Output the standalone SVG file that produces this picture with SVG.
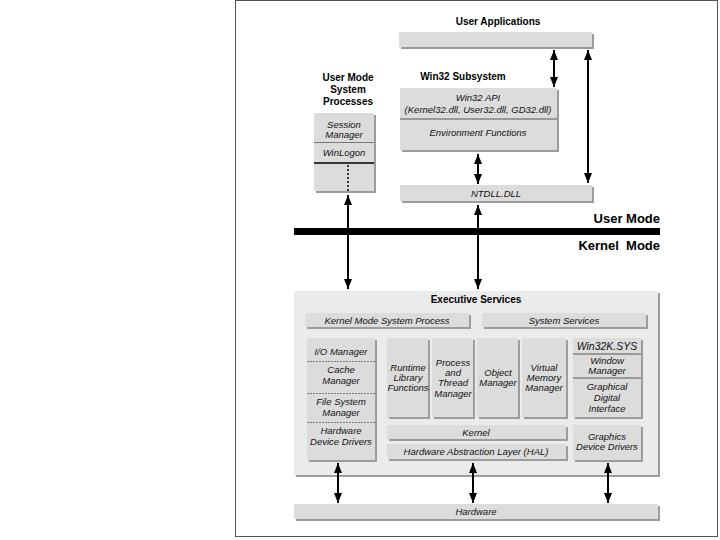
<svg xmlns="http://www.w3.org/2000/svg" width="720" height="540" viewBox="0 0 720 540">
<defs>
<marker id="ah" viewBox="0 0 10 8" refX="10" refY="4" markerWidth="5" markerHeight="4" orient="auto-start-reverse" markerUnits="strokeWidth">
<path d="M0,0 L10,4 L0,8 Z" fill="#000"/>
</marker>
<style>
.sh{fill:#9c9c9c}
.bx{fill:#dcdcdc}
.ex{fill:#ebebeb}
.t{font-family:"Liberation Sans",Arial,sans-serif;font-style:italic;font-size:9.5px;fill:#111;text-anchor:middle}
.b{font-family:"Liberation Sans",Arial,sans-serif;font-weight:bold;font-size:10px;fill:#000;text-anchor:middle}
.m{font-family:"Liberation Sans",Arial,sans-serif;font-weight:bold;font-size:13px;fill:#000;text-anchor:end}
.c{stroke:#000;stroke-width:2;fill:none;marker-start:url(#ah);marker-end:url(#ah)}
.dd{stroke:#777;stroke-width:1;stroke-dasharray:2,1}
</style>
</defs>
<rect x="0" y="0" width="720" height="540" fill="#fff"/>
<rect x="235.5" y="0.5" width="482" height="536" fill="#fff" stroke="#555" stroke-width="1"/>

<g id="user-applications">
<text class="b" x="498" y="25">User Applications</text>
<rect class="sh" x="401" y="34" width="193" height="15"/>
<rect class="bx" x="399" y="32" width="193" height="15"/>
</g>

<g id="win32-subsystem">
<text class="b" x="463" y="80">Win32 Subsystem</text>
<rect class="sh" x="402" y="90" width="157" height="62"/>
<rect class="bx" x="400" y="88" width="157" height="62"/>
<line x1="400" y1="119" x2="557" y2="119" stroke="#555" stroke-width="1"/>
<text class="t" x="478" y="101">Win32 API</text>
<text class="t" x="478" y="113">(Kernel32.dll, User32.dll, GD32.dll)</text>
<text class="t" x="478" y="136">Environment Functions</text>
</g>

<g id="ntdll">
<rect class="sh" x="402" y="187" width="192" height="16"/>
<rect class="bx" x="400" y="185" width="192" height="16"/>
<text class="t" x="496" y="197">NTDLL.DLL</text>
</g>

<g id="user-mode-system-processes">
<text class="b" x="348" y="81">User Mode</text>
<text class="b" x="348" y="93">System</text>
<text class="b" x="348" y="105">Processes</text>
<rect class="sh" x="316" y="115" width="60" height="78"/>
<rect class="bx" x="314" y="113" width="60" height="78"/>
<line x1="314" y1="142.5" x2="374" y2="142.5" stroke="#777" stroke-width="1"/>
<line x1="314" y1="163" x2="374" y2="163" stroke="#000" stroke-width="1.5"/>
<text class="t" x="344" y="128">Session</text>
<text class="t" x="344" y="138">Manager</text>
<text class="t" x="344" y="156">WinLogon</text>
<line x1="348" y1="165" x2="348" y2="192" stroke="#000" stroke-width="1.5" stroke-dasharray="2,2"/>
</g>

<g id="mode-boundary">
<rect x="294" y="228" width="366" height="7" fill="#000"/>
<text class="m" x="660" y="223">User Mode</text>
<text class="m" x="660" y="250" xml:space="preserve">Kernel  Mode</text>
</g>

<g id="executive-services">
<rect class="sh" x="296" y="293" width="364" height="184"/>
<rect class="ex" x="294" y="291" width="364" height="184"/>
<text class="b" x="476" y="303">Executive Services</text>
</g>

<g id="kernel-mode-system-process">
<rect class="sh" x="307" y="315" width="164" height="14"/>
<rect class="bx" x="305" y="313" width="164" height="14"/>
<text class="t" x="387" y="324">Kernel Mode System Process</text>
</g>

<g id="system-services">
<rect class="sh" x="484" y="315" width="164" height="14"/>
<rect class="bx" x="482" y="313" width="164" height="14"/>
<text class="t" x="564" y="324">System Services</text>
</g>

<g id="io-column">
<rect class="sh" x="309" y="340" width="68" height="122"/>
<rect class="bx" x="307" y="338" width="68" height="122"/>
<line class="dd" x1="307" y1="361.5" x2="375" y2="361.5"/>
<line class="dd" x1="307" y1="393.5" x2="375" y2="393.5"/>
<line class="dd" x1="307" y1="422.5" x2="375" y2="422.5"/>
<text class="t" x="341" y="355">I/O Manager</text>
<text class="t" x="341" y="373">Cache</text>
<text class="t" x="341" y="384">Manager</text>
<text class="t" x="341" y="405">File System</text>
<text class="t" x="341" y="416">Manager</text>
<text class="t" x="341" y="434">Hardware</text>
<text class="t" x="341" y="445">Device Drivers</text>
</g>

<g id="runtime-library">
<rect class="sh" x="389" y="340" width="41" height="79"/>
<rect class="bx" x="387" y="338" width="41" height="79"/>
<text class="t" x="408" y="371">Runtime</text>
<text class="t" x="408" y="381">Library</text>
<text class="t" x="408" y="391">Functions</text>
</g>

<g id="process-thread-manager">
<rect class="sh" x="434" y="340" width="41" height="79"/>
<rect class="bx" x="432" y="338" width="41" height="79"/>
<text class="t" x="453" y="366">Process</text>
<text class="t" x="453" y="376">and</text>
<text class="t" x="453" y="386">Thread</text>
<text class="t" x="453" y="397">Manager</text>
</g>

<g id="object-manager">
<rect class="sh" x="479" y="340" width="41" height="79"/>
<rect class="bx" x="477" y="338" width="41" height="79"/>
<text class="t" x="498" y="376">Object</text>
<text class="t" x="498" y="386">Manager</text>
</g>

<g id="virtual-memory-manager">
<rect class="sh" x="524" y="340" width="44" height="79"/>
<rect class="bx" x="522" y="338" width="44" height="79"/>
<text class="t" x="544" y="371">Virtual</text>
<text class="t" x="544" y="381">Memory</text>
<text class="t" x="544" y="391">Manager</text>
</g>

<g id="win32k-sys">
<rect class="sh" x="575" y="340" width="68" height="79"/>
<rect class="bx" x="573" y="338" width="68" height="79"/>
<text class="t" x="607" y="350" style="font-size:10.5px">Win32K.SYS</text>
<line x1="573" y1="354" x2="641" y2="354" stroke="#555" stroke-width="1.2"/>
<text class="t" x="607" y="364">Window</text>
<text class="t" x="607" y="374">Manager</text>
<line x1="573" y1="378" x2="641" y2="378" stroke="#555" stroke-width="1.2"/>
<text class="t" x="607" y="390">Graphical</text>
<text class="t" x="607" y="401">Digital</text>
<text class="t" x="607" y="412">Interface</text>
</g>

<g id="kernel">
<rect class="sh" x="389" y="427" width="179" height="14"/>
<rect class="bx" x="387" y="425" width="179" height="14"/>
<text class="t" x="476" y="436">Kernel</text>
</g>

<g id="hal">
<rect class="sh" x="389" y="446" width="179" height="15"/>
<rect class="bx" x="387" y="444" width="179" height="15"/>
<text class="t" x="476" y="455">Hardware Abstraction Layer (HAL)</text>
</g>

<g id="graphics-device-drivers">
<rect class="sh" x="575" y="427" width="68" height="35"/>
<rect class="bx" x="573" y="425" width="68" height="35"/>
<text class="t" x="607" y="440">Graphics</text>
<text class="t" x="607" y="450">Device Drivers</text>
</g>

<g id="hardware">
<rect class="sh" x="296" y="506" width="364" height="15"/>
<rect class="bx" x="294" y="504" width="364" height="15"/>
<text class="t" x="476" y="515">Hardware</text>
</g>

<g id="connectors">
<line class="c" x1="554" y1="50" x2="554" y2="87"/>
<line class="c" x1="588" y1="50" x2="588" y2="183"/>
<line class="c" x1="478" y1="154" x2="478" y2="184"/>
<line class="c" x1="348" y1="195" x2="348" y2="289"/>
<line class="c" x1="478" y1="205" x2="478" y2="289"/>
<line class="c" x1="338" y1="463" x2="338" y2="503"/>
<line class="c" x1="473" y1="463" x2="473" y2="503"/>
<line class="c" x1="608" y1="463" x2="608" y2="503"/>
</g>
</svg>
